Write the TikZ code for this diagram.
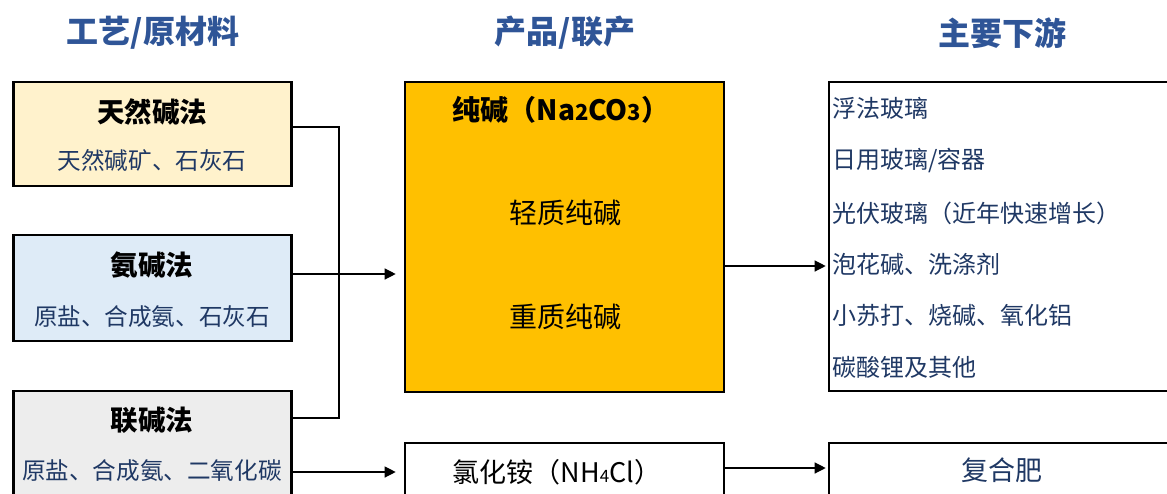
\documentclass[tikz,border=0pt]{standalone}
\usepackage{fontspec}
\setmainfont{Noto Sans CJK SC}
\usetikzlibrary{arrows.meta,calc}
\definecolor{titleblue}{HTML}{2F5597}
\definecolor{darkblue}{HTML}{1F3864}
\definecolor{yel}{HTML}{FFF2CC}
\definecolor{lblue}{HTML}{DEEBF7}
\definecolor{lgray}{HTML}{EDEDED}
\definecolor{gold}{HTML}{FFC000}
\newcommand{\fsz}[1]{\fontsize{#1}{#1}\selectfont}
\tikzset{
  boxst/.style={draw=black, line width=2.6pt, inner sep=0pt, anchor=center},
  headst/.style={text=titleblue, font=\fsz{32}\bfseries, inner sep=0pt},
  mtitle/.style={text=black, font=\fsz{27.5}\bfseries, inner sep=0pt},
  msub/.style={text=darkblue, font=\fsz{23.6}, inner sep=0pt},
  ptext/.style={text=black, font=\fsz{28}, inner sep=0pt},
  dtext/.style={text=darkblue, font=\fsz{24}, inner sep=0pt, anchor=west},
  conn/.style={draw=black, line width=1.2pt},
  arr/.style={conn, -{Triangle[length=11pt,width=11pt]}},
}
\begin{document}
\begin{tikzpicture}[x=1pt,y=-1pt]
\useasboundingbox (0,0) rectangle (1167,493);
\clip (0,0) rectangle (1167,493);
% headings
\node[headst] (h1) at (153,33) {工艺/原材料};
\node[headst] (h2) at (565,33) {产品/联产};
\node[headst] (h3) at (1002,33) {主要下游};
% left boxes
\node[boxst, fill=yel, minimum width=278pt, minimum height=104pt] (b1) at (152.5,134) {};
\node[boxst, fill=lblue, minimum width=278pt, minimum height=106pt] (b2) at (152.5,288) {};
\node[boxst, fill=lgray, minimum width=278pt, minimum height=119pt] (b3) at (152.5,450.5) {};
\node[mtitle] (t1) at (152,112) {天然碱法};
\node[msub] (s1) at (152,160) {天然碱矿、石灰石};
\node[mtitle] (t2) at (152,265) {氨碱法};
\node[msub] (s2) at (152,317) {原盐、合成氨、石灰石};
\node[mtitle] (t3) at (152,420) {联碱法};
\node[msub] (s3) at (152,471) {原盐、合成氨、二氧化碳};
% product boxes
\node[boxst, fill=gold, minimum width=319pt, minimum height=310pt] (b4) at (564.5,237) {};
\node[ptext, font=\fsz{28}\bfseries] (p1) at (561,110) {纯碱（Na{\fsz{22}2}CO{\fsz{22}3}）};
\node[ptext] (p2) at (565,213) {轻质纯碱};
\node[ptext] (p3) at (565,317) {重质纯碱};
\node[boxst, fill=white, minimum width=319pt, minimum height=67pt] (b5) at (564.5,476.5) {};
\node[ptext, font=\fsz{27}] (p4) at (557,472) {氯化铵（NH{\fsz{17}4}Cl）};
% downstream boxes
\node[boxst, fill=white, minimum width=351pt, minimum height=309pt] (b6) at (1004.5,236.5) {};
\node[dtext] (d1) at (832,108) {浮法玻璃};
\node[dtext] (d2) at (832,160) {日用玻璃/容器};
\node[dtext] (d3) at (832,213) {光伏玻璃（近年快速增长）};
\node[dtext] (d4) at (832,264) {泡花碱、洗涤剂};
\node[dtext] (d5) at (832,315) {小苏打、烧碱、氧化铝};
\node[dtext] (d6) at (832,367) {碳酸锂及其他};
\node[boxst, fill=white, minimum width=346pt, minimum height=67pt] (b7) at (1002,476.5) {};
\node[ptext, text=darkblue, font=\fsz{27}] (c1) at (1002,470) {复合肥};
% connectors
\coordinate (jt) at (339,127);
\coordinate (jb) at (339,418);
\draw[conn] ([yshift=7pt]b1.east) -- (jt) -- (jb) -- (jb -| b3.east);
\draw[arr, shorten >=8pt] ([yshift=14pt]b2.east) -- ([yshift=14pt]b2.east -| b4.west);
\draw[arr, shorten >=8pt] ([yshift=-21.5pt]b3.east) -- ([yshift=-21.5pt]b3.east -| b5.west);
\draw[arr, shorten >=2pt] ([yshift=-29pt]b4.east) -- ([yshift=-29pt]b4.east -| b6.west);
\draw[arr, shorten >=2pt] ([yshift=8.5pt]b5.east) -- ([yshift=8.5pt]b5.east -| b7.west);
\end{tikzpicture}
\end{document}
